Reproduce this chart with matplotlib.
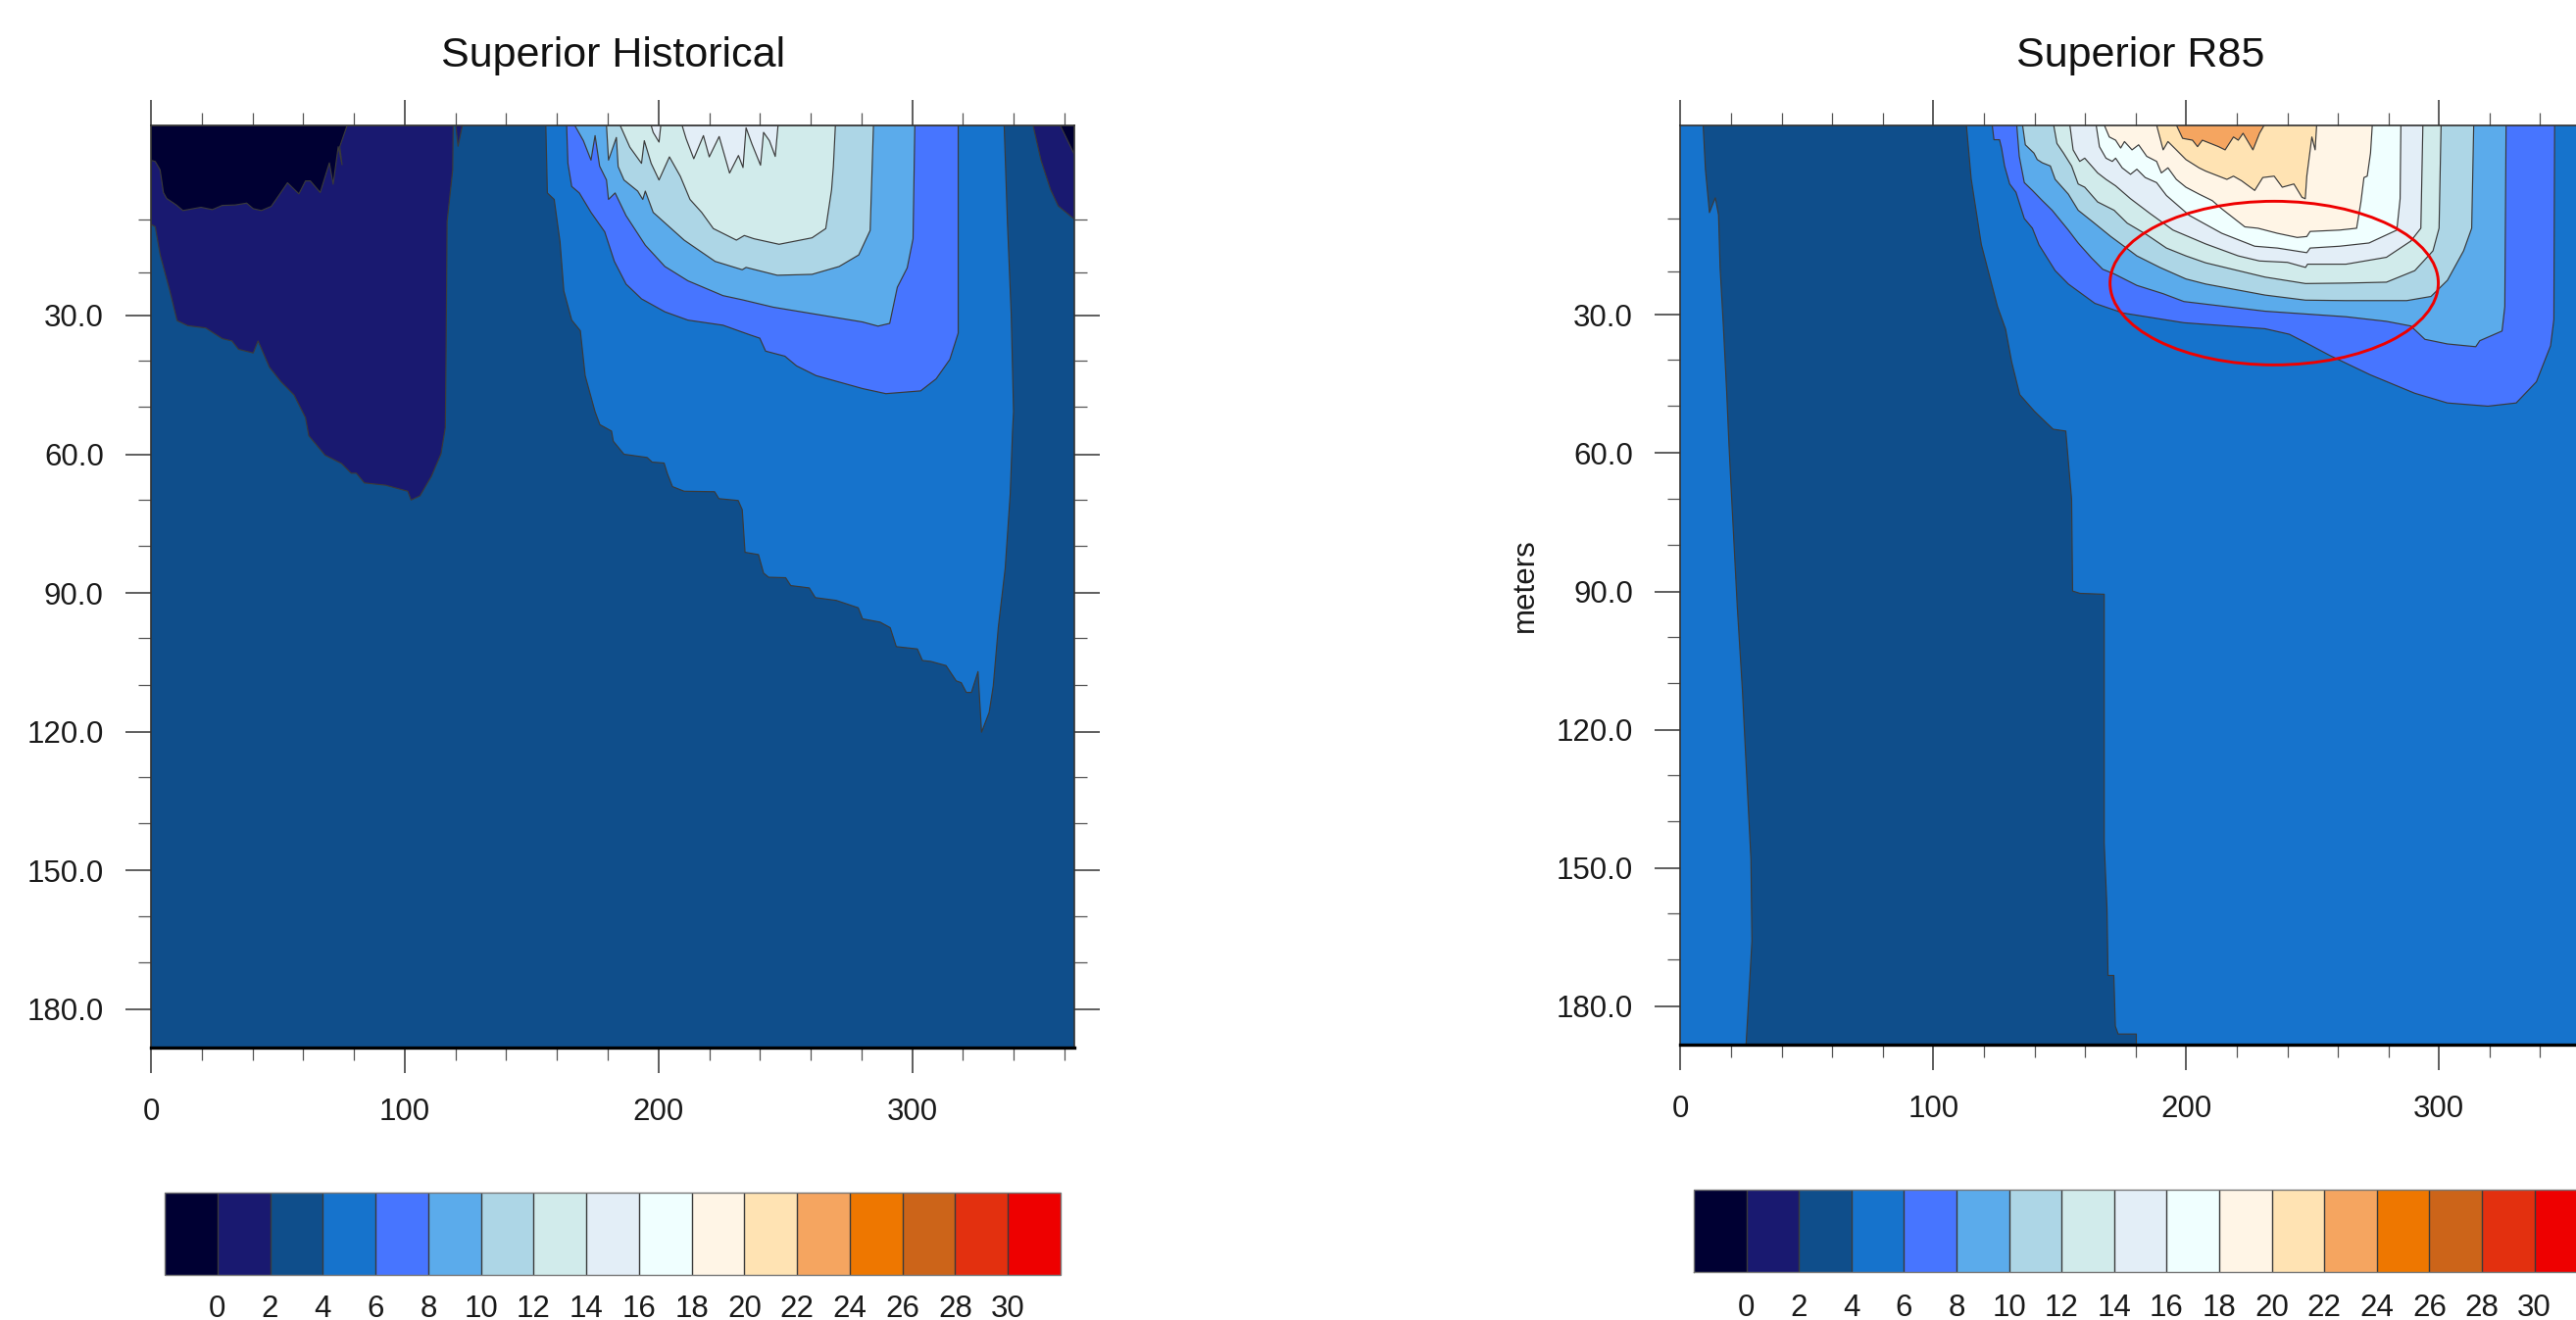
import matplotlib
matplotlib.use("Agg")
import matplotlib.pyplot as plt
from matplotlib.colors import ListedColormap, BoundaryNorm
from matplotlib.cm import ScalarMappable
from matplotlib.patches import Ellipse

plt.rcParams['font.family'] = ['Liberation Sans', 'DejaVu Sans']

# colour scale
level_edges = list(range(-2, 34, 2))
level_ticks = list(range(0, 32, 2))
cell_colors = ['#000033', '#191970', '#0F4E8B', '#1673CC', '#4775FF', '#5BABEB',
               '#ADD6E6', '#D1EBEB', '#E3EEF7', '#F0FFFF', '#FFF5E6', '#FFE3B3',
               '#F5A560', '#EE7700', '#CC6419', '#E3300F', '#EE0000']

# axis ticks
x_major = [0, 100, 200, 300]
x_minor = [20, 40, 60, 80, 120, 140, 160, 180, 220, 240, 260, 280, 320, 340, 360]
y_major = [30, 60, 90, 120, 150, 180]
y_minor = [9.2, 20.6, 39.7, 49.8, 69.8, 79.8, 99.8, 109.8, 129.8, 139.8, 159.8, 169.8]

# ---------- Superior Historical: isotherm outlines (day, depth in m) ----------
hist_lt2_day = [119.1, 118.9, 116.7, 116.3, 116.0, 114.3, 110.5, 106.0, 102.5, 101.2, 92.5, 84.1, 80.9, 78.9,
                75.1, 68.6, 62.2, 60.9, 56.4, 51.2, 46.7, 42.2, 40.3, 34.5, 31.9, 28.1, 21.6, 14.5, 10.3, 7.4,
                3.6, 1.7, 0.4, 0, 0]
hist_lt2_depth = [-11.1, -1.5, 9.7, 37.3, 54.2, 59.9, 64.8, 69.0, 69.9, 68.0, 66.7, 66.2, 64.1, 64.1,
                  62.0, 60.2, 56.0, 52.1, 47.2, 44.3, 41.2, 35.5, 38.1, 37.3, 35.5, 35.0, 32.7, 32.2, 31.1, 24.6,
                  16.8, 10.8, 10.4, 10.4, -11.1]
hist_lt2_spike_day = [120.1, 121.0, 122.7]
hist_lt2_spike_depth = [-11.1, -6.6, -11.1]
hist_lt2_end_day = [347.6, 350.7, 354.5, 357.5, 363.7, 364, 364]
hist_lt2_end_depth = [-11.1, -3.6, 2.8, 6.3, 9.1, 9.1, -11.1]

hist_lt0_day = [77.3, 74.4, 75.3, 73.8, 71.8, 70.3, 66.7, 62.8, 60.9, 58.3, 53.8, 51.2, 47.4, 43.5, 40.3, 37.7,
                33.2, 28.1, 24.2, 19.7, 12.6, 10.0, 6.2, 4.9, 3.6, 1.7, 0.4, 0, 0]
hist_lt0_depth = [-11.1, -6.5, -2.6, -6.5, 1.6, -3.0, 3.4, 0.9, 0.9, 3.7, 1.3, 3.4, 6.4, 7.3, 6.9, 5.7,
                  6.1, 6.2, 7.1, 6.6, 7.3, 6.1, 4.7, 3.4, -1.5, -3.3, -3.5, -3.5, -11.1]
hist_lt0_end_day = [358.3, 363.7, 364, 364]
hist_lt0_end_depth = [-11.1, -5.0, -5.0, -11.1]

hist_ge4_day = [155.6, 156.2, 158.9, 161.2, 162.7, 165.8, 169.2, 171.1, 175.0, 176.9, 181.5, 182.2, 186.4, 195.5,
                197.5, 202.2, 203.5, 205.5, 210.1, 222.1, 223.8, 231.4, 233.0, 234.1, 239.4, 241.4, 243.4, 250.1,
                252.1, 259.4, 261.8, 270.0, 278.7, 280.4, 287.3, 291.3, 293.7, 302.0, 304.0, 307.3, 313.3, 317.3,
                319.3, 321.3, 323.3, 325.9, 327.3, 330.3, 331.9, 333.9, 336.6, 338.6, 339.5, 339.9, 339.0, 337.5,
                336.2]
hist_ge4_depth = [-11.1, 3.5, 4.9, 14.1, 24.7, 31.0, 33.3, 43.0, 50.8, 53.6, 55.0, 57.2, 60.0, 60.7,
                  61.7, 61.9, 64.2, 67.0, 68.0, 68.1, 69.6, 70.0, 72.0, 81.2, 81.7, 85.7, 86.6, 86.7,
                  88.4, 88.9, 91.0, 91.6, 93.2, 95.6, 96.3, 97.5, 101.6, 102.1, 104.6, 104.8, 105.7, 109.0,
                  109.4, 111.5, 111.5, 107.0, 120.1, 115.8, 110.1, 97.4, 84.7, 68.5, 55.0, 50.8, 30.0, 10.0,
                  -11.1]

hist_ge6_day = [163.8, 164.3, 165.8, 168.8, 173.4, 178.8, 182.6, 187.2, 193.3, 202.5, 211.6, 225.4, 236.1, 239.9,
                242.2, 249.8, 254.4, 262.1, 280.4, 289.6, 303.3, 309.4, 314.8, 318.1, 318.1]
hist_ge6_depth = [-11.1, -2.9, 2.1, 3.5, 7.7, 11.9, 18.3, 23.2, 26.4, 29.2, 31.0, 32.1, 34.2, 34.9,
                  37.7, 38.8, 40.9, 43.0, 45.8, 46.9, 46.3, 43.7, 39.5, 33.8, -11.1]

hist_ge8_day = [167.0, 170.4, 173.4, 175.0, 176.8, 179.5, 180.3, 182.9, 187.2, 194.8, 202.5, 211.6, 225.4, 233.0,
                245.2, 280.4, 286.5, 291.1, 294.1, 298.0, 300.3, 301.0]
hist_ge8_depth = [-11.1, -7.8, -3.6, -8.9, -2.3, 0.7, 4.9, 3.5, 8.4, 14.8, 19.4, 22.5, 25.7, 26.6,
                  28.2, 31.4, 32.3, 31.7, 23.9, 19.7, 13.4, -11.1]

hist_ge10_day = [179.5, 180.3, 183.4, 184.1, 186.4, 191.8, 193.8, 194.8, 197.9, 210.1, 222.3, 233.0, 234.5, 246.8,
                 260.5, 271.2, 278.9, 283.4, 284.7]
hist_ge10_depth = [-11.1, -3.6, -8.5, -2.2, 0.7, 3.1, 4.9, 3.1, 7.7, 13.7, 18.3, 20.1, 19.6, 21.3,
                   21.1, 19.4, 16.9, 11.6, -11.1]

hist_ge12_day = [184.9, 188.7, 193.3, 194.4, 197.1, 200.2, 204.3, 208.6, 212.4, 217.0, 221.6, 230.7, 233.8, 237.6,
                 247.5, 260.5, 265.9, 268.2, 268.9, 269.7]
hist_ge12_depth = [-11.1, -6.4, -2.9, -7.8, -2.9, 0.7, -4.3, -0.1, 4.9, 7.7, 11.2, 13.7, 12.7, 13.4,
                   14.6, 13.2, 11.2, 2.8, -2.2, -11.1]

hist_ge14_day = [209.3, 210.9, 213.9, 217.7, 220.0, 223.9, 228.0, 231.5, 233.3, 234.5, 236.8, 240.2, 241.4, 243.7,
                 246.0, 247.1]
hist_ge14_depth = [-11.1, -8.2, -3.9, -8.9, -4.3, -8.7, -0.8, -4.6, -2.0, -10.6, -7.1, -2.5, -9.6, -7.8,
                   -4.4, -11.1]
hist_ge14_small_day = [197.1, 197.9, 200.2, 200.9]
hist_ge14_small_depth = [-11.1, -9.6, -7.5, -11.1]

# ---------- Superior R85: isotherm outlines (day, depth in m) ----------
r85_lt4_day = [9.0, 9.9, 11.5, 13.8, 15.1, 15.7, 17.0, 18.3, 19.2, 20.5, 22.5, 24.5, 25.6, 27.9, 28.3, 27.2, 25.9,
               180.3, 180.3, 173.1, 172.0, 171.4, 169.1, 168.7, 167.6, 167.6, 158.0, 155.1, 154.7, 152.4, 147.4,
               144.7, 140.0, 134.2, 131.0, 128.6, 125.4, 119.0, 115.0, 113.1]
r85_lt4_depth = [-11.2, -1.6, 7.8, 4.6, 8.3, 19.7, 32.4, 46.6, 58.0, 72.2, 93.4, 111.2, 123.3, 148.1, 165.8, 176.5, 189.0,
                 189.0, 186.0, 186.0, 184.3, 173.3, 173.3, 158.8, 144.6, 90.6, 90.4, 89.9, 70.0, 55.2, 54.8,
                 53.4, 50.9, 47.3, 40.2, 33.1, 28.2, 14.7, 0.5, -11.2]

r85_ge6_day = [123.3, 124.0, 126.2, 127.0, 128.2, 130.2, 132.7, 136.0, 139.2, 141.8, 148.2, 153.4, 163.9, 175.1, 199.1,
               231.2, 240.8, 247.2, 256.8, 272.8, 290.4, 303.3, 319.3, 330.5, 338.5, 344.1, 345.4, 345.7]
r85_ge6_depth = [-11.2, -8.0, -8.0, -6.2, -2.3, 1.6, 3.4, 9.1, 11.2, 14.8, 20.4, 23.3, 27.5, 29.6, 31.7,
                 33.0, 34.2, 36.0, 38.8, 43.0, 47.0, 49.1, 49.8, 49.1, 44.5, 36.7, 31.0, -11.2]

r85_ge8_day = [133.0, 134.0, 136.0, 139.2, 143.1, 147.0, 153.4, 157.3, 162.5, 167.0, 171.5, 180.5, 190.9, 199.1,
               231.2, 263.2, 279.2, 288.8, 294.4, 303.3, 314.5, 316.1, 324.9, 326.0, 326.5]
r85_ge8_depth = [-11.2, -4.4, 1.3, 3.0, 5.2, 7.3, 11.6, 14.4, 17.6, 20.1, 21.1, 23.6, 25.4, 27.1,
                 29.2, 30.4, 31.4, 32.4, 35.3, 36.3, 36.9, 35.6, 33.5, 28.2, -11.2]

r85_ge10_day = [135.3, 136.4, 139.8, 141.1, 143.1, 146.3, 148.2, 153.4, 157.3, 163.7, 170.2, 175.4, 180.5, 189.6,
                199.9, 207.7, 231.2, 247.2, 263.2, 287.2, 296.8, 303.3, 309.7, 312.9, 313.7]
r85_ge10_depth = [-11.2, -6.9, -5.1, -3.7, -3.0, -2.3, 0.6, 3.8, 7.3, 10.1, 13.0, 15.1, 17.2, 19.7,
                  22.2, 23.3, 25.7, 26.8, 26.9, 26.9, 26.0, 22.5, 16.1, 11.2, -11.2]

r85_ge12_day = [147.6, 148.9, 151.5, 154.7, 157.3, 159.9, 165.0, 171.5, 176.7, 184.4, 192.2, 199.9, 207.7, 231.2,
                247.2, 263.2, 279.2, 290.4, 297.6, 300.0, 300.8]
r85_ge12_depth = [-11.2, -7.2, -5.1, -2.3, 1.6, 2.3, 5.5, 7.3, 10.1, 12.6, 15.5, 17.2, 18.7, 21.8,
                  23.2, 23.1, 22.9, 20.4, 16.1, 11.2, -11.2]

r85_ge14_day = [154.0, 155.3, 157.9, 159.9, 165.0, 168.3, 172.1, 178.0, 185.7, 194.8, 207.7, 220.6, 229.0, 240.0,
                247.2, 248.0, 263.2, 279.2, 288.8, 292.8, 293.6]
r85_ge14_depth = [-11.2, -5.8, -3.3, -4.0, -0.8, 0.6, 2.0, 4.8, 8.0, 11.6, 14.6, 17.2, 18.3, 18.6,
                  19.7, 19.0, 19.0, 17.5, 14.0, 11.2, -11.2]

r85_ge16_day = [164.4, 165.7, 168.3, 170.8, 172.1, 174.7, 178.0, 180.5, 183.8, 188.3, 192.2, 201.2, 214.1, 227.1,
                236.1, 247.7, 249.0, 260.7, 272.3, 283.3, 284.6, 284.9]
r85_ge16_depth = [-11.2, -6.5, -4.0, -3.3, -4.0, -1.9, -0.5, -1.6, 0.2, 1.3, 4.1, 8.4, 12.3, 15.1,
                  15.5, 16.5, 15.5, 15.1, 14.4, 11.6, 4.8, -11.2]

r85_ge18_day = [167.6, 169.6, 172.1, 174.1, 175.6, 178.6, 181.2, 184.4, 188.3, 190.2, 192.8, 196.1, 199.9, 205.1,
                210.3, 214.1, 223.2, 228.4, 236.1, 243.9, 247.7, 249.0, 260.7, 267.4, 269.1, 270.3, 271.6, 272.9,
                273.6]
r85_ge18_depth = [-11.2, -8.6, -7.9, -6.2, -7.6, -5.8, -6.9, -4.4, -3.3, -0.8, -1.9, 0.6, 2.3, 3.8,
                  5.2, 7.0, 10.9, 11.2, 12.3, 13.2, 13.0, 11.9, 11.6, 11.2, 5.5, 0.2, -0.1, -5.1,
                  -11.2]

r85_ge20_day = [188.3, 190.9, 192.8, 196.1, 199.9, 205.1, 207.7, 216.1, 218.7, 221.9, 227.1, 230.3, 234.8, 238.0,
                242.6, 245.8, 247.1, 247.7, 249.7, 251.0, 251.6]
r85_ge20_depth = [-11.2, -5.8, -7.6, -5.8, -3.7, -1.9, -1.2, 0.6, -0.1, 0.9, 3.0, 0.2, -0.1, 2.3,
                  1.6, 4.5, 4.8, -0.1, -8.6, -5.8, -11.2]

r85_ge22_day = [196.1, 198.6, 202.5, 204.5, 206.4, 212.8, 215.4, 218.7, 220.6, 222.5, 226.4, 229.0, 230.9]
r85_ge22_depth = [-11.2, -8.3, -7.9, -6.5, -7.9, -6.5, -5.8, -8.6, -7.9, -9.4, -5.8, -9.4, -11.2]

# highlighted region on the R85 panel
ellipse_day, ellipse_depth, ellipse_days, ellipse_meters = 234.8, 23.1, 129.8, 35.5

W, H = 2628, 1347
fig = plt.figure(figsize=(W / 100, H / 100), dpi=100, facecolor='white')


def box(x0, y0, x1, y1):
    return [x0 / W, 1 - y1 / H, (x1 - x0) / W, (y1 - y0) / H]


LINE = '#3a3a3a'


def region(ax, days, depths, cell):
    ax.fill(days, depths, facecolor=cell_colors[cell], edgecolor=LINE, linewidth=0.85, joinstyle='round')


def style(ax, title):
    ax.set_xlim(0, 364)
    ax.set_ylim(188.3, -11.1)
    ax.set_xticks(x_major)
    ax.set_xticks(x_minor, minor=True)
    ax.set_yticks(y_major)
    ax.set_yticks(y_minor, minor=True)
    ax.set_yticklabels([f'{v:.1f}' for v in y_major])
    ax.tick_params(which='major', direction='out', length=18.7, width=1.1, color='#333333',
                   top=True, right=True, labelsize=22.5, labelcolor='#1a1a1a')
    ax.tick_params(which='minor', direction='out', length=9.4, width=0.9, color='#555555',
                   top=True, right=True)
    ax.tick_params(axis='x', which='major', pad=18)
    ax.tick_params(axis='y', which='major', pad=16)
    for side in ('left', 'right', 'top'):
        ax.spines[side].set_linewidth(1.2)
        ax.spines[side].set_color('#333333')
        ax.spines[side].set_zorder(10)
    ax.spines['bottom'].set_linewidth(2.4)
    ax.spines['bottom'].set_color('#000000')
    ax.spines['bottom'].set_zorder(10)
    ax.text(0.5, 1 + 71 / 941, title, transform=ax.transAxes, ha='center', va='center',
            fontsize=31, color='#111111', clip_on=False)


# left panel
ax1 = fig.add_axes(box(154, 128, 1096.4, 1069))
ax1.set_facecolor(cell_colors[2])
region(ax1, hist_lt2_day, hist_lt2_depth, 1)
region(ax1, hist_lt2_spike_day, hist_lt2_spike_depth, 1)
region(ax1, hist_lt2_end_day, hist_lt2_end_depth, 1)
region(ax1, hist_lt0_day, hist_lt0_depth, 0)
region(ax1, hist_lt0_end_day, hist_lt0_end_depth, 0)
region(ax1, hist_ge4_day, hist_ge4_depth, 3)
region(ax1, hist_ge6_day, hist_ge6_depth, 4)
region(ax1, hist_ge8_day, hist_ge8_depth, 5)
region(ax1, hist_ge10_day, hist_ge10_depth, 6)
region(ax1, hist_ge12_day, hist_ge12_depth, 7)
region(ax1, hist_ge14_day, hist_ge14_depth, 8)
region(ax1, hist_ge14_small_day, hist_ge14_small_depth, 8)
style(ax1, 'Superior Historical')

# right panel (runs off the right edge of the figure, as in the reference)
ax2 = fig.add_axes(box(1714.3, 128, 1714.3 + 2.58 * 364, 1066))
ax2.set_facecolor(cell_colors[3])
region(ax2, r85_lt4_day, r85_lt4_depth, 2)
region(ax2, r85_ge6_day, r85_ge6_depth, 4)
region(ax2, r85_ge8_day, r85_ge8_depth, 5)
region(ax2, r85_ge10_day, r85_ge10_depth, 6)
region(ax2, r85_ge12_day, r85_ge12_depth, 7)
region(ax2, r85_ge14_day, r85_ge14_depth, 8)
region(ax2, r85_ge16_day, r85_ge16_depth, 9)
region(ax2, r85_ge18_day, r85_ge18_depth, 10)
region(ax2, r85_ge20_day, r85_ge20_depth, 11)
region(ax2, r85_ge22_day, r85_ge22_depth, 12)
ax2.add_patch(Ellipse((ellipse_day, ellipse_depth), ellipse_days, ellipse_meters,
                      facecolor='none', edgecolor='#EE0000', linewidth=2.1, zorder=8))
style(ax2, 'Superior R85')
ax2.set_ylabel('meters', fontsize=22.5, color='#1a1a1a', labelpad=12)

# colour bars
cmap = ListedColormap(cell_colors)
norm = BoundaryNorm(level_edges, cmap.N)
for rect, label_pad in ((box(168, 1217, 1082, 1301), 14.5), (box(1728, 1214, 1728 + 53.6 * 17, 1298), 16)):
    cax = fig.add_axes(rect)
    cb = fig.colorbar(ScalarMappable(norm=norm, cmap=cmap), cax=cax, orientation='horizontal',
                      ticks=level_ticks, spacing='uniform', drawedges=True)
    cb.dividers.set_color('#3a3a3a')
    cb.dividers.set_linewidth(1.0)
    cb.outline.set_edgecolor('#777777')
    cb.outline.set_linewidth(1.0)
    cb.ax.tick_params(length=0, pad=label_pad, labelsize=22.5, labelcolor='#1a1a1a')
    cb.ax.minorticks_off()

fig.savefig('out.png', dpi=100)
